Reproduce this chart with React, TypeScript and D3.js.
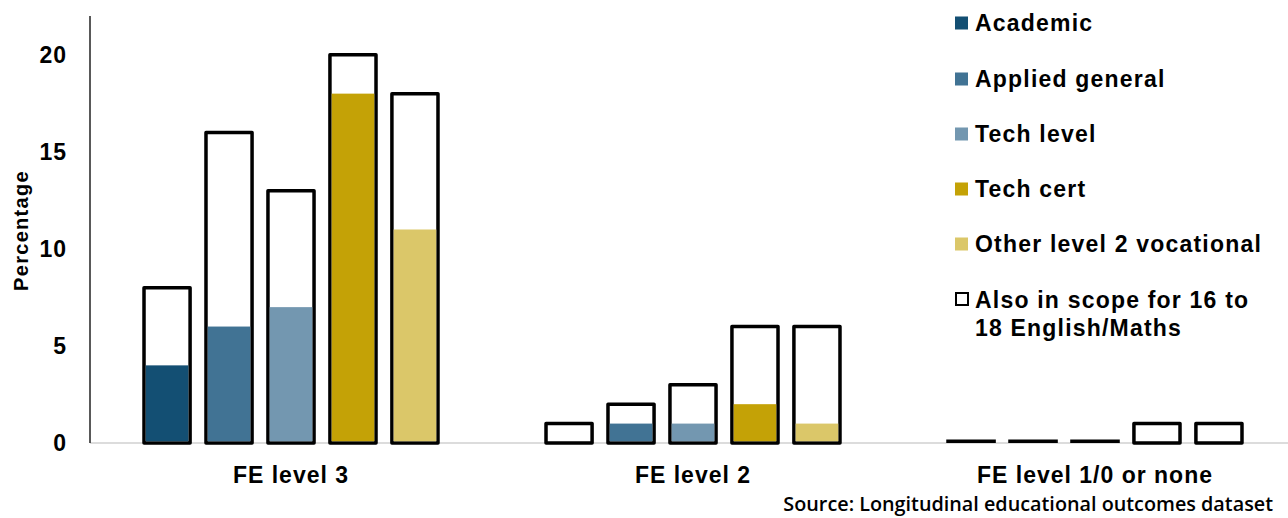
import React from "react";
import * as d3 from "d3";

const categories = ["FE level 3", "FE level 2", "FE level 1/0 or none"];
const seriesNames = [
  "Academic",
  "Applied general",
  "Tech level",
  "Tech cert",
  "Other level 2 vocational",
];
const seriesColors = ["#134f73", "#417394", "#7397b0", "#c4a206", "#dbc769"];

// Share of each qualification type also in scope for 16 to 18 English/Maths (outline total)
const totalValues = [
  [8, 16, 13, 20, 18],
  [1, 2, 3, 6, 6],
  [0, 0, 0, 1, 1],
];
// Coloured portion within each bar
const filledValues = [
  [4, 6, 7, 18, 11],
  [0, 1, 1, 2, 1],
  [0, 0, 0, 0, 0],
];
const yTicks = [0, 5, 10, 15, 20];
const outlineLabel = ["Also in scope for 16 to", "18 English/Maths"];
const sourceText = "Source: Longitudinal educational outcomes dataset";

const W = 1288;
const H = 518;
const FONT = "'Liberation Sans', Arial, sans-serif";

export default function App() {
  const x = d3.scaleBand<string>().domain(categories).range([90, 1296]);
  const bw = x.bandwidth();
  const xi = d3
    .scaleBand<string>()
    .domain(seriesNames)
    .range([bw * 0.13, bw * 0.87])
    .paddingInner(0.2);
  const y = d3.scaleLinear().domain([0, 22]).range([443, 16]);
  const sw = 3.5;

  const legendY = [23, 79, 134, 189, 244];

  return (
    <svg
      width={W}
      height={H}
      style={{ position: "absolute", left: 0, top: 0, background: "#fff" }}
      fontFamily={FONT}
      fontWeight="bold"
    >
      {/* baseline */}
      <line x1={90} x2={W} y1={y(0)} y2={y(0)} stroke="#d0d0d0" strokeWidth={1.5} />
      {/* y axis */}
      <line x1={90} x2={90} y1={y(22)} y2={y(0)} stroke="#222" strokeWidth={1.5} />
      {yTicks.map((t) => (
        <text
          key={t}
          x={67}
          y={y(t)}
          textAnchor="end"
          dominantBaseline="central"
          fontSize={23}
          letterSpacing={1}
          fill="#000"
        >
          {t}
        </text>
      ))}
      <text
        transform={`translate(21,${(y(0) + y(22)) / 2 + 1}) rotate(-90)`}
        textAnchor="middle"
        dominantBaseline="central"
        fontSize={20}
        letterSpacing={1.3}
        fill="#000"
      >
        Percentage
      </text>

      {categories.map((c, ci) => (
        <g key={c} transform={`translate(${x(c)},0)`}>
          {seriesNames.map((s, si) => {
            const bx = xi(s)!;
            const ib = xi.bandwidth();
            const tot = totalValues[ci][si];
            const fil = filledValues[ci][si];
            if (tot === 0) {
              // an empty bar collapses to its outline along the baseline
              return (
                <line
                  key={s}
                  x1={bx}
                  x2={bx + ib}
                  y1={y(0) - sw / 2}
                  y2={y(0) - sw / 2}
                  stroke="#000"
                  strokeWidth={sw}
                />
              );
            }
            return (
              <g key={s}>
                <rect
                  x={bx + sw / 2}
                  y={y(tot)}
                  width={ib - sw}
                  height={y(0) - y(tot)}
                  fill="#fff"
                  stroke="#000"
                  strokeWidth={sw}
                  strokeLinejoin="round"
                />
                {fil > 0 && (
                  <rect
                    x={bx + sw}
                    y={y(fil)}
                    width={ib - 2 * sw}
                    height={y(0) - y(fil) - sw / 2}
                    fill={seriesColors[si]}
                  />
                )}
              </g>
            );
          })}
          <text
            x={bw / 2}
            y={475}
            textAnchor="middle"
            dominantBaseline="central"
            fontSize={23}
            letterSpacing={1}
            fill="#000"
          >
            {c}
          </text>
        </g>
      ))}

      {/* legend */}
      {seriesNames.map((s, i) => (
        <g key={s}>
          <rect x={955} y={legendY[i] - 6.5} width={13} height={13} fill={seriesColors[i]} />
          <text
            x={975}
            y={legendY[i]}
            dominantBaseline="central"
            fontSize={23}
            letterSpacing={1.2}
            fill="#000"
          >
            {s}
          </text>
        </g>
      ))}
      <rect x={956} y={293} width={12} height={12} fill="#fff" stroke="#000" strokeWidth={2} />
      {outlineLabel.map((l, i) => (
        <text
          key={l}
          x={975}
          y={300 + i * 28}
          dominantBaseline="central"
          fontSize={23}
          letterSpacing={1.2}
          fill="#000"
        >
          {l}
        </text>
      ))}

      <text
        x={1273}
        y={511}
        textAnchor="end"
        fontSize={19.8}
        fontFamily="'Open Sans', sans-serif"
        fontWeight={600}
        fill="#000"
      >
        {sourceText}
      </text>
    </svg>
  );
}
